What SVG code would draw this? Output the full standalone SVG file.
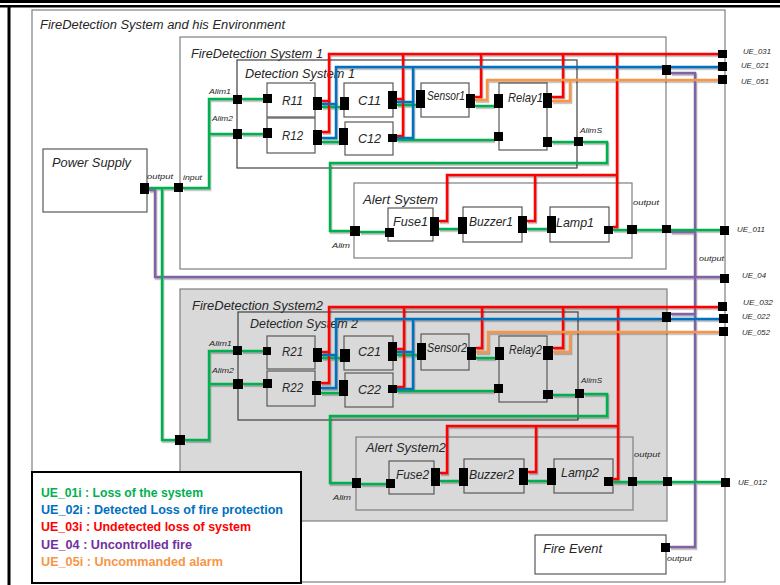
<svg xmlns="http://www.w3.org/2000/svg" width="780" height="585" viewBox="0 0 780 585">
<style>
.box{fill:none;stroke:#7f7f7f;stroke-width:1.2}
.node{fill:none;stroke:#595959;stroke-width:1.2}
.port{fill:#000}
.c{fill:none;stroke-width:2.5;stroke-linejoin:miter}
.g{stroke:#00b050}.r{stroke:#ff0000}.b{stroke:#0070c0}.o{stroke:#f79646}.p{stroke:#8064a2}
.t{font-family:"Liberation Sans",Arial,sans-serif;font-style:italic;fill:#262626}
.s{font-size:8px}
.n{font-size:13.5px}
.h{font-size:12.5px}
.lg{font-family:"Liberation Sans",Arial,sans-serif;font-weight:bold;font-size:12px}
</style>
<defs>
<filter id="sh" x="-5%" y="-5%" width="110%" height="110%"><feDropShadow dx="1" dy="1.5" stdDeviation="0.5" flood-color="#000" flood-opacity="0.35"/></filter>
</defs>
<rect width="780" height="585" fill="#fff"/>
<rect x="0" y="0" width="780" height="3" fill="#000"/>
<rect x="0" y="5" width="780" height="2.5" fill="#000"/>
<rect x="7.5" y="7" width="3" height="578" fill="#000"/>

<g id="environment">
<rect class="box" x="32" y="10" width="693" height="572"/>
<text class="t h" x="40" y="29" textLength="245" lengthAdjust="spacingAndGlyphs">FireDetection System and his Environment</text>
</g>

<g id="fds1">
<rect class="box" x="180" y="37" width="486" height="232"/>
<text class="t h" x="191" y="57.5" textLength="132" lengthAdjust="spacingAndGlyphs">FireDetection System 1</text>
</g>
<g id="ds1">
<rect x="237" y="60" width="340" height="108" fill="none" stroke="#404040" stroke-width="1.2"/>
<text class="t h" x="245" y="78" textLength="110" lengthAdjust="spacingAndGlyphs">Detection System 1</text>
</g>
<g id="alert1">
<rect class="box" x="354" y="183" width="278" height="75"/>
<text class="t h" x="363" y="204" textLength="75" lengthAdjust="spacingAndGlyphs">Alert System</text>
</g>
<g id="fds2">
<rect x="180" y="289" width="487" height="232" fill="#d9d9d9" stroke="#7f7f7f" stroke-width="1.2"/>
<text class="t h" x="192" y="310" textLength="131" lengthAdjust="spacingAndGlyphs">FireDetection System2</text>
</g>
<g id="ds2">
<rect x="238" y="312" width="340" height="108" fill="none" stroke="#404040" stroke-width="1.2"/>
<text class="t h" x="250" y="328" textLength="108" lengthAdjust="spacingAndGlyphs">Detection System 2</text>
</g>
<g id="alert2">
<rect class="box" x="356" y="437" width="277" height="73" stroke="#404040"/>
<text class="t h" x="366" y="452" textLength="80" lengthAdjust="spacingAndGlyphs">Alert System2</text>
</g>

<g id="power-supply">
<rect class="node" x="43" y="149" width="104" height="63"/>
<text class="t n" x="52" y="167" textLength="79" lengthAdjust="spacingAndGlyphs">Power Supply</text>
</g>
<g id="r11"><rect class="node" x="267" y="83" width="48" height="34"/><text class="t n" x="282" y="105" textLength="21" lengthAdjust="spacingAndGlyphs">R11</text></g>
<g id="r12"><rect class="node" x="267" y="118" width="48" height="35"/><text class="t n" x="282" y="140" textLength="21" lengthAdjust="spacingAndGlyphs">R12</text></g>
<g id="c11"><rect class="node" x="344" y="83" width="49" height="34"/><text class="t n" x="358" y="105" textLength="23" lengthAdjust="spacingAndGlyphs">C11</text></g>
<g id="c12"><rect class="node" x="345" y="122" width="48" height="33"/><text class="t n" x="358" y="143" textLength="23" lengthAdjust="spacingAndGlyphs">C12</text></g>
<g id="sensor1"><rect class="node" x="421" y="83" width="48" height="34"/><text class="t n" x="427" y="100" textLength="38" lengthAdjust="spacingAndGlyphs">Sensor1</text></g>
<g id="relay1"><rect class="node" x="499" y="83" width="48" height="67"/><text class="t n" x="508" y="102" textLength="35" lengthAdjust="spacingAndGlyphs">Relay1</text></g>
<g id="fuse1"><rect class="node" x="388" y="208" width="45" height="33"/><text class="t n" x="393" y="226" textLength="35" lengthAdjust="spacingAndGlyphs">Fuse1</text></g>
<g id="buzzer1"><rect class="node" x="463" y="207" width="59" height="35"/><text class="t n" x="469" y="226" textLength="44" lengthAdjust="spacingAndGlyphs">Buzzer1</text></g>
<g id="lamp1"><rect class="node" x="550" y="207" width="59" height="35"/><text class="t n" x="556" y="227" textLength="38" lengthAdjust="spacingAndGlyphs">Lamp1</text></g>

<g id="r21"><rect class="node" x="267" y="336" width="48" height="33"/><text class="t n" x="282" y="356" textLength="21" lengthAdjust="spacingAndGlyphs">R21</text></g>
<g id="r22"><rect class="node" x="267" y="371" width="48" height="35"/><text class="t n" x="282" y="392" textLength="21" lengthAdjust="spacingAndGlyphs">R22</text></g>
<g id="c21"><rect class="node" x="344" y="336" width="49" height="34"/><text class="t n" x="358" y="356" textLength="23" lengthAdjust="spacingAndGlyphs">C21</text></g>
<g id="c22"><rect class="node" x="345" y="373" width="48" height="34"/><text class="t n" x="358" y="394" textLength="23" lengthAdjust="spacingAndGlyphs">C22</text></g>
<g id="sensor2"><rect class="node" x="421" y="334" width="48" height="36"/><text class="t n" x="427" y="352" textLength="40" lengthAdjust="spacingAndGlyphs">Sensor2</text></g>
<g id="relay2"><rect class="node" x="499" y="336" width="48" height="66"/><text class="t n" x="509" y="354" textLength="33" lengthAdjust="spacingAndGlyphs">Relay2</text></g>
<g id="fuse2"><rect class="node" x="389" y="461" width="45" height="33"/><text class="t n" x="396" y="479" textLength="33" lengthAdjust="spacingAndGlyphs">Fuse2</text></g>
<g id="buzzer2"><rect class="node" x="464" y="459" width="60" height="34"/><text class="t n" x="469" y="479" textLength="45" lengthAdjust="spacingAndGlyphs">Buzzer2</text></g>
<g id="lamp2"><rect class="node" x="554" y="459" width="59" height="34"/><text class="t n" x="561" y="477" textLength="38" lengthAdjust="spacingAndGlyphs">Lamp2</text></g>
<g id="fire-event"><rect class="node" x="535" y="535" width="131" height="39" fill="#fff"/><text class="t n" x="543" y="553" textLength="59" lengthAdjust="spacingAndGlyphs">Fire Event</text></g>

<g id="connectors" filter="url(#sh)">
<!-- purple -->
<path class="c p" d="M149,190 H155 V277 H720"/>
<path class="c p" d="M670,547 H695 V73 H671"/>
<path class="c p" d="M671,232 H695"/>
<path class="c p" d="M671,314 H695"/>
<!-- green FDS1 -->
<path class="c g" d="M149,188 H175"/>
<path class="c g" d="M183,188 H209 V99 H233"/>
<path class="c g" d="M209,134 H233"/>
<path class="c g" d="M242,99 H263"/>
<path class="c g" d="M242,134 H263"/>
<path class="c g" d="M322,107 H340"/>
<path class="c g" d="M322,142 H339"/>
<path class="c g" d="M397,105 H416"/>
<path class="c g" d="M397,140 H494"/>
<path class="c g" d="M475,106 H494"/>
<path class="c g" d="M552,142 H574"/>
<path class="c g" d="M583,142 H607 V163 H330 V231 H350"/>
<path class="c g" d="M360,232 H385"/>
<path class="c g" d="M439,229 H458"/>
<path class="c g" d="M527,229 H547"/>
<path class="c g" d="M613,230 H720"/>
<!-- green FDS2 -->
<path class="c g" d="M162,188 V440 H175"/>
<path class="c g" d="M185,440 H209 V351 H233"/>
<path class="c g" d="M209,384 H233"/>
<path class="c g" d="M242,351 H263"/>
<path class="c g" d="M243,384 H263"/>
<path class="c g" d="M322,358 H340"/>
<path class="c g" d="M321,393 H339"/>
<path class="c g" d="M397,355 H417"/>
<path class="c g" d="M397,391 H494"/>
<path class="c g" d="M476,358 H495"/>
<path class="c g" d="M553,395 H575"/>
<path class="c g" d="M584,394 H607 V416 H330 V483 H352"/>
<path class="c g" d="M361,484 H386"/>
<path class="c g" d="M440,481 H459"/>
<path class="c g" d="M528,481 H547"/>
<path class="c g" d="M613,482 H721"/>
<!-- red -->
<path class="c r" d="M322,101 H329 V54 H718"/>
<path class="c r" d="M322,132 H329 V100"/>
<path class="c r" d="M397,99 H403 V54"/>
<path class="c r" d="M397,136 H403 V99"/>
<path class="c r" d="M475,97 H481 V54"/>
<path class="c r" d="M552,97 H563 V54"/>
<path class="c r" d="M617,54 V227 H613"/>
<path class="c r" d="M439,221 H447 V175 H617"/>
<path class="c r" d="M527,221 H535 V175"/>
<path class="c r" d="M322,352 H329 V307 H718"/>
<path class="c r" d="M321,383 H329 V351"/>
<path class="c r" d="M397,349 H404 V307"/>
<path class="c r" d="M397,387 H404 V349"/>
<path class="c r" d="M476,348 H482 V307"/>
<path class="c r" d="M553,348 H563 V307"/>
<path class="c r" d="M618,307 V479 H613"/>
<path class="c r" d="M440,473 H447 V426 H618"/>
<path class="c r" d="M528,472 H536 V426"/>
<!-- blue -->
<path class="c b" d="M322,104 H336 V67 H718"/>
<path class="c b" d="M322,138 H336 V103"/>
<path class="c b" d="M397,102 H413 V67"/>
<path class="c b" d="M397,138 H413 V101"/>
<path class="c b" d="M322,355 H336 V319 H719"/>
<path class="c b" d="M321,388 H336 V354"/>
<path class="c b" d="M397,352 H413 V319"/>
<path class="c b" d="M397,389 H413 V351"/>
<!-- orange -->
<path class="c o" d="M475,100 H487 V80 H718"/>
<path class="c o" d="M552,101 H570 V80"/>
<path class="c o" d="M476,352 H488 V332 H719"/>
<path class="c o" d="M553,352 H570 V332"/>
</g>

<g id="ports">
<rect class="port" x="140" y="183" width="9" height="11"/>
<rect class="port" x="174" y="183" width="9" height="9"/>
<rect class="port" x="175" y="435" width="10" height="10"/>
<rect class="port" x="233" y="95" width="9" height="9"/>
<rect class="port" x="233" y="129" width="9" height="10"/>
<rect class="port" x="263" y="94" width="9" height="9"/>
<rect class="port" x="313" y="97" width="9" height="13"/>
<rect class="port" x="263" y="128" width="9" height="10"/>
<rect class="port" x="313" y="130" width="9" height="15"/>
<rect class="port" x="340" y="97" width="9" height="13"/>
<rect class="port" x="388" y="91" width="9" height="18"/>
<rect class="port" x="339" y="128" width="9" height="17"/>
<rect class="port" x="388" y="134" width="9" height="8"/>
<rect class="port" x="416" y="90" width="9" height="18"/>
<rect class="port" x="466" y="94" width="9" height="14"/>
<rect class="port" x="494" y="94" width="9" height="14"/>
<rect class="port" x="494" y="132" width="9" height="9"/>
<rect class="port" x="543" y="93" width="9" height="15"/>
<rect class="port" x="543" y="137" width="9" height="10"/>
<rect class="port" x="574" y="137" width="9" height="9"/>
<rect class="port" x="350" y="226" width="10" height="10"/>
<rect class="port" x="385" y="228" width="9" height="9"/>
<rect class="port" x="430" y="217" width="9" height="19"/>
<rect class="port" x="458" y="217" width="9" height="17"/>
<rect class="port" x="518" y="216" width="9" height="17"/>
<rect class="port" x="547" y="216" width="9" height="17"/>
<rect class="port" x="604" y="226" width="9" height="8"/>
<rect class="port" x="627" y="225" width="10" height="9"/>
<rect class="port" x="662" y="225" width="9" height="8"/>
<rect class="port" x="662" y="65" width="9" height="10"/>
<rect class="port" x="718" y="50" width="9" height="8"/>
<rect class="port" x="718" y="62" width="9" height="9"/>
<rect class="port" x="718" y="75" width="9" height="9"/>
<rect class="port" x="720" y="226" width="9" height="9"/>
<rect class="port" x="720" y="274" width="9" height="9"/>
<rect class="port" x="233" y="346" width="9" height="9"/>
<rect class="port" x="233" y="379" width="10" height="10"/>
<rect class="port" x="263" y="347" width="8" height="8"/>
<rect class="port" x="313" y="348" width="9" height="14"/>
<rect class="port" x="263" y="379" width="9" height="9"/>
<rect class="port" x="312" y="381" width="9" height="14"/>
<rect class="port" x="340" y="349" width="10" height="13"/>
<rect class="port" x="388" y="342" width="9" height="19"/>
<rect class="port" x="339" y="380" width="9" height="16"/>
<rect class="port" x="388" y="385" width="9" height="8"/>
<rect class="port" x="417" y="343" width="9" height="17"/>
<rect class="port" x="467" y="347" width="9" height="13"/>
<rect class="port" x="495" y="347" width="9" height="13"/>
<rect class="port" x="494" y="384" width="9" height="9"/>
<rect class="port" x="543" y="346" width="10" height="14"/>
<rect class="port" x="543" y="390" width="10" height="9"/>
<rect class="port" x="575" y="389" width="9" height="9"/>
<rect class="port" x="352" y="478" width="9" height="10"/>
<rect class="port" x="386" y="479" width="9" height="9"/>
<rect class="port" x="431" y="468" width="9" height="18"/>
<rect class="port" x="459" y="468" width="9" height="18"/>
<rect class="port" x="519" y="468" width="9" height="17"/>
<rect class="port" x="547" y="468" width="9" height="17"/>
<rect class="port" x="604" y="477" width="9" height="9"/>
<rect class="port" x="628" y="477" width="9" height="9"/>
<rect class="port" x="663" y="477" width="9" height="9"/>
<rect class="port" x="662" y="312" width="9" height="10"/>
<rect class="port" x="718" y="302" width="9" height="9"/>
<rect class="port" x="719" y="314" width="9" height="9"/>
<rect class="port" x="719" y="327" width="9" height="9"/>
<rect class="port" x="721" y="478" width="9" height="9"/>
<rect class="port" x="661" y="543" width="9" height="9"/>
</g>

<g id="port-labels" class="t s">
<text x="147" y="179" textLength="26" lengthAdjust="spacingAndGlyphs">output</text>
<text x="183" y="180" textLength="19" lengthAdjust="spacingAndGlyphs">input</text>
<text x="209" y="94" font-size="7" textLength="22" lengthAdjust="spacingAndGlyphs">Alim1</text>
<text x="212" y="121" font-size="7" textLength="21" lengthAdjust="spacingAndGlyphs">Alim2</text>
<text x="580" y="133" font-size="7" textLength="22" lengthAdjust="spacingAndGlyphs">AlimS</text>
<text x="332" y="248" font-size="7" textLength="18" lengthAdjust="spacingAndGlyphs">Alim</text>
<text x="633" y="205" textLength="26" lengthAdjust="spacingAndGlyphs">output</text>
<text x="699" y="261" textLength="25" lengthAdjust="spacingAndGlyphs">output</text>
<text x="743" y="54" textLength="28" lengthAdjust="spacingAndGlyphs">UE_031</text>
<text x="741" y="68" textLength="28" lengthAdjust="spacingAndGlyphs">UE_021</text>
<text x="741" y="84" textLength="28" lengthAdjust="spacingAndGlyphs">UE_051</text>
<text x="737" y="232" textLength="28" lengthAdjust="spacingAndGlyphs">UE_011</text>
<text x="742" y="278" textLength="24" lengthAdjust="spacingAndGlyphs">UE_04</text>
<text x="209" y="346" font-size="7" textLength="23" lengthAdjust="spacingAndGlyphs">Alim1</text>
<text x="212" y="373" font-size="7" textLength="22" lengthAdjust="spacingAndGlyphs">Alim2</text>
<text x="581" y="383" font-size="7" textLength="21" lengthAdjust="spacingAndGlyphs">AlimS</text>
<text x="333" y="500" font-size="7" textLength="18" lengthAdjust="spacingAndGlyphs">Alim</text>
<text x="634" y="457" textLength="26" lengthAdjust="spacingAndGlyphs">output</text>
<text x="743" y="305" textLength="30" lengthAdjust="spacingAndGlyphs">UE_032</text>
<text x="742" y="319" textLength="28" lengthAdjust="spacingAndGlyphs">UE_022</text>
<text x="742" y="335" textLength="28" lengthAdjust="spacingAndGlyphs">UE_052</text>
<text x="738" y="485" textLength="29" lengthAdjust="spacingAndGlyphs">UE_012</text>
<text x="667" y="561" textLength="25" lengthAdjust="spacingAndGlyphs">output</text>
</g>

<g id="legend">
<rect x="32" y="472" width="269" height="111" fill="#fff" stroke="#000" stroke-width="2"/>
<text class="lg" x="41" y="497" fill="#00b050" textLength="162" lengthAdjust="spacingAndGlyphs">UE_01i : Loss of the system</text>
<text class="lg" x="41" y="514" fill="#0070c0" textLength="242" lengthAdjust="spacingAndGlyphs">UE_02i : Detected Loss of fire protection</text>
<text class="lg" x="41" y="531" fill="#ff0000" textLength="210" lengthAdjust="spacingAndGlyphs">UE_03i : Undetected loss of system</text>
<text class="lg" x="41" y="549" fill="#7030a0" textLength="151" lengthAdjust="spacingAndGlyphs">UE_04 : Uncontrolled fire</text>
<text class="lg" x="41" y="566" fill="#f79646" textLength="182" lengthAdjust="spacingAndGlyphs">UE_05i : Uncommanded alarm</text>
</g>
</svg>
